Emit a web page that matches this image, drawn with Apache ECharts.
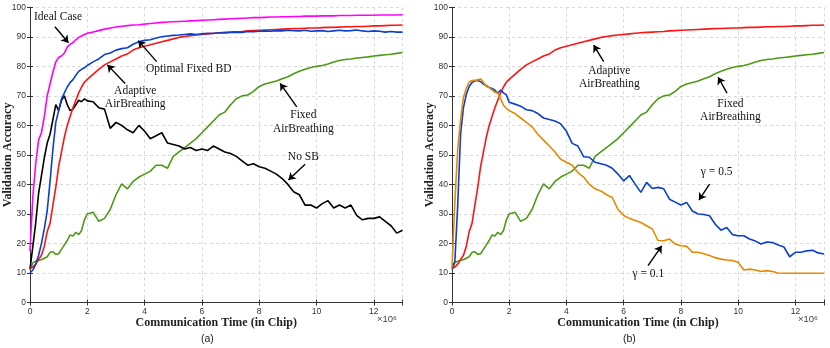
<!DOCTYPE html>
<html>
<head>
<meta charset="utf-8">
<script src="https://cdn.jsdelivr.net/npm/echarts@6/dist/echarts.min.js"></script>
<style>html,body{margin:0;padding:0;background:#fff}#main{width:830px;height:348px}</style>
</head>
<body>
<div id="main"></div>
<script>
// communication time, x 10^6 chips
var timeX = [0, 0.1, 0.2, 0.3, 0.4, 0.5, 0.6, 0.7, 0.8, 0.9, 1.0, 1.1, 1.2, 1.3, 1.4, 1.5, 1.6, 1.7, 1.8, 1.9, 2.0,
  2.2, 2.4, 2.6, 2.8, 3.0, 3.2, 3.4, 3.6, 3.8, 4.0, 4.2, 4.4, 4.6, 4.8, 5.0, 5.2, 5.4, 5.6, 5.8, 6.0,
  6.2, 6.4, 6.6, 6.8, 7.0, 7.2, 7.4, 7.6, 7.8, 8.0, 8.2, 8.4, 8.6, 8.8, 9.0, 9.2, 9.4, 9.6, 9.8, 10.0,
  10.2, 10.4, 10.6, 10.8, 11.0, 11.2, 11.4, 11.6, 11.8, 12.0, 12.2, 12.4, 12.6, 12.8, 13.0]

var idealCase = [17.5, 36, 47, 55, 57.5, 63, 70, 74, 78, 81.5, 83, 83.5, 84.5, 86.5, 87.5, 88, 89, 89.8, 90.3, 90.8, 91.2,
  91.6, 92.1, 92.6, 93.0, 93.3, 93.6, 93.8, 94.0, 94.1, 94.3, 94.5, 94.7, 94.9, 95.0, 95.1, 95.2, 95.3, 95.4, 95.5, 95.6,
  95.7, 95.8, 95.9, 96.0, 96.1, 96.2, 96.3, 96.4, 96.5, 96.5, 96.6, 96.7, 96.7, 96.8, 96.8, 96.9, 96.9, 97.0, 97.0, 97.0,
  97.1, 97.1, 97.1, 97.2, 97.2, 97.2, 97.3, 97.3, 97.3, 97.3, 97.4, 97.4, 97.4, 97.4, 97.5]

var optimalFixedBD = [10, 11, 13, 16, 20, 25, 31, 41, 52, 61, 65, 69, 71, 73, 74.5, 75.5, 77, 78.3, 79, 79.5, 80.3,
  81.5, 82.5, 84, 84.5, 85.5, 86, 86.3, 87.5, 88.3, 88.8, 89, 89.6, 90, 90.3, 90.5, 90.6, 90.8, 91, 90.8, 91,
  91.2, 91.1, 91.4, 91.3, 91.5, 91.6, 91.5, 91.8, 91.7, 91.9, 92, 91.9, 92.1, 92, 92.2, 92.1, 92, 92.2, 91.9, 92,
  92.1, 91.8, 92, 92.2, 92, 92.1, 92.3, 92, 91.8, 92, 91.9, 91.6, 91.8, 91.6, 91.6]

var adaptiveAB = [11.5, 12, 13, 14.5, 16, 19, 24, 26.8, 33, 39, 46, 51, 56, 60, 63, 66, 68.5, 71, 73, 74.6, 75.6,
  77.3, 79, 80.5, 81.5, 82.5, 83.5, 84.2, 85.5, 86.3, 86.8, 87.3, 87.8, 88.3, 88.8, 89.3, 89.8, 90.1, 90.4, 90.6, 90.8,
  91, 91.2, 91.4, 91.5, 91.6, 91.7, 91.8, 92, 92.1, 92.2, 92.3, 92.4, 92.5, 92.6, 92.7, 92.8, 92.8, 92.9, 93, 93,
  93.1, 93.2, 93.2, 93.3, 93.4, 93.4, 93.5, 93.5, 93.6, 93.7, 93.7, 93.8, 93.9, 93.9, 94]

var noSB = [11.3, 19, 27, 37, 43, 49, 54, 57, 62, 67, 65, 68.5, 70, 67, 65, 65.5, 67, 68.5, 68, 69, 68.3,
  68, 66, 65.5, 59, 61, 60, 58.5, 57.5, 60, 58, 55.5, 56.5, 57.5, 54, 53.5, 53, 52, 52.5, 51.5, 52,
  51.5, 53, 52, 51, 50.5, 49.5, 48, 46.5, 47, 46, 45.5, 44.5, 43.5, 42, 40, 37.5, 36.5, 33, 33, 32,
  33.5, 34.5, 32, 33, 32, 33, 29.5, 28, 28.5, 28.5, 29, 27.5, 26, 23.5, 24.5]

var fixedAB = [11, 13.5, 14, 14.3, 14.5, 15, 15.5, 17, 17.2, 16.3, 16.5, 18, 19.5, 21, 22.9, 22.5, 23.8, 23, 24.4, 28, 30,
  30.6, 27.5, 28.5, 31.5, 36.5, 40.2, 38.5, 41, 42.5, 43.5, 44.5, 46.5, 46.5, 45.5, 49.5, 51, 52.5, 54, 55.5, 57.5,
  59.5, 61.5, 63.5, 64.5, 67, 69, 70, 70.3, 71.5, 73.2, 74, 74.5, 75, 75.8, 76.5, 77.5, 78.3, 79, 79.6, 80,
  80.3, 80.8, 81.5, 82, 82.3, 82.5, 82.8, 83, 83.2, 83.5, 83.7, 83.9, 84.1, 84.4, 84.7]

var gamma05 = [11.5, 14, 33, 57, 66, 70.5, 73.2, 74.5, 75.1, 75.2, 74.8, 74, 73.5, 72.8, 72.5, 71.9, 70.9, 72, 71, 70.3, 67.8,
  67.2, 66.5, 65.3, 65, 64, 62.5, 62, 61.5, 60.5, 58, 53.9, 53, 49.4, 49.2, 47.5, 47, 46.5, 45.5, 43.5, 41.2,
  43, 40.1, 37.3, 40.7, 38.6, 39, 38.5, 35, 34, 33, 33.9, 31, 30, 29.8, 29.4, 26.5, 24.5, 25.4, 23, 22.6,
  22.6, 21.5, 20.8, 19.8, 20.5, 20.3, 19.5, 18.8, 15.5, 17, 17, 17.5, 17.7, 16.8, 16.4]

var gamma01 = [11.9, 34, 52, 62, 69.5, 72.5, 74.7, 75.2, 75.3, 75.4, 75.8, 74.5, 73.2, 72.8, 72, 71.2, 70.9, 69, 66.8, 65.8, 65,
  64, 62.5, 61, 59.5, 57, 55, 53, 51, 48.5, 47.5, 46.5, 44, 42.5, 40, 38.5, 37.8, 36.5, 35.6, 31.5, 29.5,
  28.5, 27.8, 27.1, 26, 24.9, 21, 20.9, 21.5, 19.8, 19.2, 19, 17, 17, 16.5, 15.9, 15.2, 14.7, 14.4, 14.2, 13.6,
  11, 11.3, 11, 10.5, 10.8, 10.5, 10, 9.9, 9.9, 9.9, 9.9, 9.9, 9.9, 9.9, 9.9]

// annotation texts with arrows (in data coordinates)
var notesA = [
  { text: 'Ideal Case', at: [0.98, 96.8], from: [0.87, 93.4], to: [1.34, 88] },
  { text: 'Optimal Fixed BD', at: [5.54, 79.1], from: [4.42, 81.6], to: [3.78, 88.7] },
  { text: 'Adaptive\nAirBreathing', at: [3.67, 69.5], from: [3.32, 74.2], to: [2.7, 80.5] },
  { text: 'Fixed\nAirBreathing', at: [9.54, 61.2], from: [9.31, 66.3], to: [8.73, 74.2] },
  { text: 'No SB', at: [9.54, 49.2], from: [9.6, 46.8], to: [9.02, 41.5] }
]
var notesB = [
  { text: 'Adaptive\nAirBreathing', at: [5.5, 76.3], from: [5.3, 81.6], to: [4.95, 87.2] },
  { text: 'Fixed\nAirBreathing', at: [9.73, 65], from: [9.61, 70.9], to: [9.3, 76.3] },
  { text: 'γ = 0.5', at: [9.25, 44.1], from: [9.0, 40.1], to: [8.63, 34.7] },
  { text: 'γ = 0.1', at: [6.86, 9.7], from: [6.85, 12.5], to: [7.33, 19.2] }
]

var serif = '"Liberation Serif", "Times New Roman", serif'
var sans = '"Liberation Sans", Arial, sans-serif'

function zip(ys) {
  return ys.map(function (y, i) { return [timeX[i], y] })
}

function line(name, ys, color, gi, notes) {
  var s = {
    name: name, type: 'line', xAxisIndex: gi, yAxisIndex: gi,
    data: zip(ys), showSymbol: false, silent: true,
    lineStyle: { width: 1.6, color: color }, itemStyle: { color: color }
  }
  if (notes) {
    s.markLine = {
      silent: true, symbol: ['none', 'arrow'], symbolSize: 7,
      label: { show: false },
      lineStyle: { color: '#000', width: 1.4, type: 'solid' },
      data: notes.map(function (n) { return [{ coord: n.from }, { coord: n.to }] })
    }
    s.markPoint = {
      silent: true, symbol: 'circle', symbolSize: 0,
      data: notes.map(function (n) {
        return {
          coord: n.at,
          label: { show: true, position: 'inside', formatter: n.text, color: '#111',
            fontFamily: serif, fontSize: 11.5, lineHeight: 13.5 }
        }
      })
    }
  }
  return s
}

var dark = '#333'
var gridLine = { show: true, lineStyle: { color: '#d8d8d8', type: [3, 3], width: 1 } }

function xAx(gi) {
  return {
    type: 'value', gridIndex: gi, min: 0, max: 13, interval: 2,
    name: 'Communication Time (in Chip)', nameLocation: 'middle', nameGap: 14, nameMoveOverlap: false,
    nameTextStyle: { fontFamily: serif, fontWeight: 'bold', fontSize: 12, color: '#222' },
    axisLine: { show: true, lineStyle: { color: dark, width: 1 } },
    axisTick: { show: true, inside: true, length: 3, lineStyle: { color: dark } },
    axisLabel: { fontFamily: sans, fontSize: 8.5, color: dark, margin: 5,
      formatter: function (v) { return v % 2 === 0 ? v : '' } },
    splitLine: gridLine
  }
}

function yAx(gi) {
  return {
    type: 'value', gridIndex: gi, min: 0, max: 100, interval: 10,
    name: 'Validation Accuracy', nameLocation: 'middle', nameGap: 16, nameMoveOverlap: false,
    nameTextStyle: { fontFamily: serif, fontWeight: 'bold', fontSize: 12, color: '#222' },
    axisLine: { show: true, lineStyle: { color: dark, width: 1 } },
    axisTick: { show: true, inside: true, length: 3, lineStyle: { color: dark } },
    axisLabel: { fontFamily: sans, fontSize: 8.5, color: dark, margin: 4 },
    splitLine: gridLine
  }
}

// top / right frame of each box
function boxAx(gi, isX) {
  return {
    type: 'value', gridIndex: gi, min: 0, max: isX ? 13 : 100, interval: isX ? 2 : 10,
    position: isX ? 'top' : 'right',
    axisLine: { show: true, lineStyle: { color: dark, width: 1 } },
    axisTick: { show: true, inside: true, length: 3, lineStyle: { color: dark } },
    axisLabel: { show: false }, splitLine: { show: false }
  }
}

var myChart = echarts.init(document.getElementById('main'))

var options = {
  animation: false,
  backgroundColor: '#fff',
  grid: [
    { left: 30, top: 7.3, width: 372.5, height: 295.2, outerBoundsMode: 'none' },
    { left: 452, top: 7.3, width: 372, height: 295.2, outerBoundsMode: 'none' }
  ],
  xAxis: [xAx(0), xAx(1), boxAx(0, true), boxAx(1, true)],
  yAxis: [yAx(0), yAx(1), boxAx(0, false), boxAx(1, false)],
  series: [
    // (a)
    line('Fixed AirBreathing', fixedAB, '#4c9a14', 0),
    line('No SB', noSB, '#000000', 0),
    line('Adaptive AirBreathing', adaptiveAB, '#ff1414', 0),
    line('Optimal Fixed BD', optimalFixedBD, '#0a3fcf', 0),
    line('Ideal Case', idealCase, '#ff00ff', 0, notesA),
    // (b)
    line('Fixed AirBreathing', fixedAB, '#4c9a14', 1),
    line('Adaptive AirBreathing', adaptiveAB, '#ff1414', 1),
    line('γ = 0.5', gamma05, '#0a3fcf', 1),
    line('γ = 0.1', gamma01, '#e58a00', 1, notesB)
  ],
  graphic: [
    { type: 'text', left: 377, top: 314, style: { text: '×10⁶', font: '9.5px ' + sans, fill: '#444' } },
    { type: 'text', left: 798, top: 314, style: { text: '×10⁶', font: '9.5px ' + sans, fill: '#444' } },
    { type: 'text', left: 201, top: 334, style: { text: '(a)', font: '10.5px ' + sans, fill: '#222' } },
    { type: 'text', left: 623, top: 334, style: { text: '(b)', font: '10.5px ' + sans, fill: '#222' } }
  ]
}

myChart.setOption(options)
</script>
</body>
</html>
